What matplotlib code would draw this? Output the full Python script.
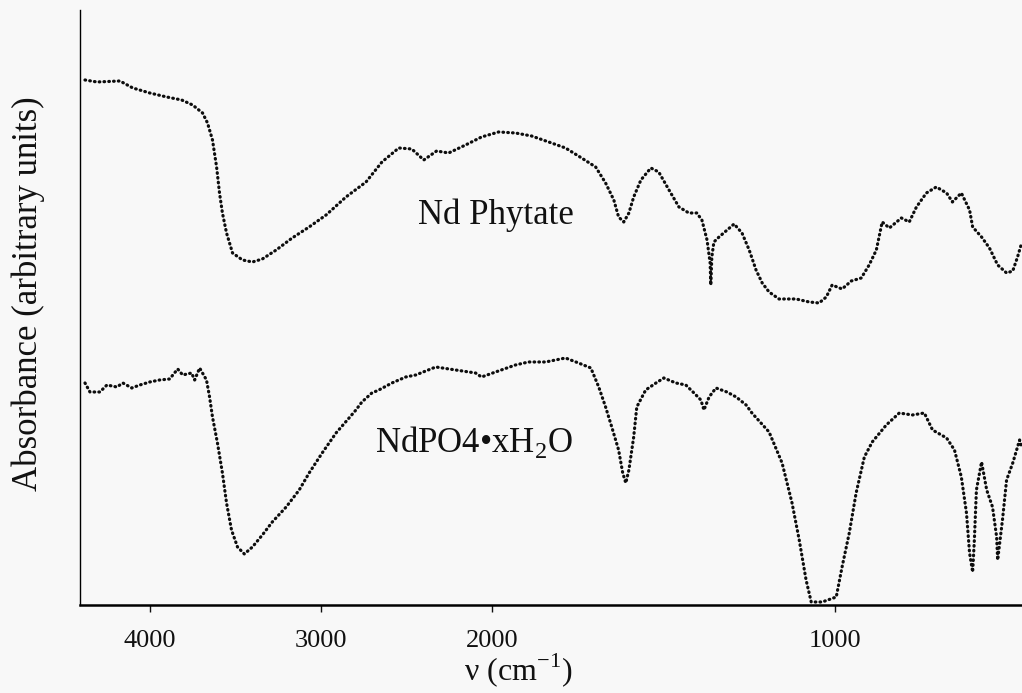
import numpy as np
import matplotlib
matplotlib.use("Agg")
import matplotlib.pyplot as plt

plt.rcParams['font.family'] = ['Liberation Serif', 'DejaVu Serif']
plt.rcParams['mathtext.fontset'] = 'custom'
plt.rcParams['mathtext.rm'] = 'Liberation Serif'

# IR spectra: wavenumber (cm-1) and absorbance (arbitrary units)
phytate_nu = [4378, 4308, 4174, 4099, 4000, 3901, 3814, 3750, 3692, 3663, 3634, 3610,
              3593, 3576, 3552, 3517, 3459, 3401, 3343, 3262, 3169, 3070, 2971, 2855,
              2738, 2645, 2547, 2471, 2401, 2326, 2256, 2157, 2064, 1982, 1933, 1886,
              1836, 1787, 1740, 1699, 1670, 1646, 1632, 1617, 1602, 1588, 1567, 1538,
              1515, 1485, 1456, 1427, 1404, 1389, 1374, 1365, 1363, 1360, 1354, 1339,
              1295, 1272, 1251, 1231, 1213, 1193, 1164, 1114, 1076, 1047, 1026, 1009,
              980, 953, 924, 901, 880, 863, 842, 807, 784, 763, 734, 705, 675, 658,
              632, 608, 599, 573, 550, 526, 500, 482, 468, 456]
phytate_abs = [5.25, 5.23, 5.24, 5.17, 5.12, 5.08, 5.05, 5.00, 4.92, 4.82, 4.65, 4.38,
               4.12, 3.92, 3.72, 3.52, 3.45, 3.43, 3.46, 3.55, 3.67, 3.78, 3.90, 4.08,
               4.23, 4.43, 4.57, 4.56, 4.45, 4.54, 4.52, 4.60, 4.68, 4.73, 4.72, 4.69,
               4.63, 4.57, 4.47, 4.38, 4.22, 4.05, 3.88, 3.83, 3.92, 4.08, 4.25, 4.37,
               4.33, 4.15, 3.98, 3.92, 3.92, 3.85, 3.65, 3.42, 3.20, 3.48, 3.63, 3.68,
               3.81, 3.72, 3.55, 3.35, 3.22, 3.13, 3.06, 3.06, 3.03, 3.02, 3.08, 3.20,
               3.16, 3.24, 3.27, 3.40, 3.55, 3.83, 3.77, 3.87, 3.83, 3.98, 4.12, 4.18,
               4.12, 4.03, 4.12, 3.95, 3.78, 3.68, 3.57, 3.40, 3.32, 3.34, 3.48, 3.62]

ndpo4_nu = [4378, 4349, 4291, 4250, 4192, 4157, 4105, 4058, 4000, 3942, 3884, 3837,
            3808, 3756, 3738, 3709, 3669, 3651, 3634, 3605, 3576, 3552, 3523, 3488,
            3448, 3401, 3343, 3285, 3204, 3128, 3070, 2994, 2913, 2837, 2797, 2762,
            2704, 2663, 2587, 2506, 2448, 2331, 2215, 2099, 2064, 1991, 1933, 1895,
            1845, 1787, 1749, 1713, 1690, 1670, 1652, 1632, 1620, 1611, 1602, 1588,
            1579, 1553, 1523, 1500, 1465, 1436, 1412, 1392, 1383, 1368, 1348, 1316,
            1289, 1260, 1243, 1193, 1155, 1126, 1105, 1085, 1070, 1038, 997, 980,
            959, 939, 915, 892, 851, 813, 775, 740, 716, 675, 652, 632, 617, 608,
            599, 594, 588, 573, 558, 541, 529, 526, 512, 500, 482, 462, 456]
ndpo4_abs = [2.22, 2.13, 2.13, 2.20, 2.18, 2.22, 2.17, 2.20, 2.23, 2.25, 2.26, 2.36,
             2.30, 2.32, 2.25, 2.37, 2.25, 2.08, 1.88, 1.62, 1.32, 1.02, 0.75, 0.58,
             0.51, 0.58, 0.70, 0.83, 0.98, 1.15, 1.32, 1.52, 1.72, 1.87, 1.95, 2.03,
             2.12, 2.15, 2.22, 2.28, 2.30, 2.38, 2.35, 2.32, 2.28, 2.33, 2.40, 2.43,
             2.43, 2.47, 2.42, 2.37, 2.18, 1.98, 1.78, 1.55, 1.32, 1.22, 1.35, 1.68,
             1.98, 2.15, 2.22, 2.27, 2.22, 2.20, 2.12, 2.05, 1.95, 2.08, 2.17, 2.13,
             2.08, 2.00, 1.92, 1.73, 1.42, 1.02, 0.65, 0.25, 0.03, 0.03, 0.08, 0.38,
             0.72, 1.12, 1.48, 1.63, 1.80, 1.92, 1.90, 1.92, 1.75, 1.67, 1.55, 1.28,
             0.92, 0.52, 0.33, 0.65, 1.15, 1.43, 1.15, 0.98, 0.68, 0.45, 0.85, 1.25,
             1.42, 1.65, 1.58]

x_ticks = [4000, 3000, 2000, 1000]
BREAK = 2000  # spectrometer doubles the abscissa scale below 2000 cm-1


def fwd(v):
    v = np.asarray(v, dtype=float)
    return np.where(v >= BREAK, v - BREAK, (v - BREAK) * 2.0)


def inv(u):
    u = np.asarray(u, dtype=float)
    return np.where(u >= 0, u + BREAK, u / 2.0 + BREAK)


fig = plt.figure(figsize=(10.22, 6.93), dpi=100)
fig.patch.set_facecolor("#f8f8f8")
ax = fig.add_axes([0.0783, 0.127, 0.9217, 0.8586])
ax.set_facecolor("#f8f8f8")
ax.set_xscale("function", functions=(fwd, inv))

# dotted trace like the scanned chart-recorder output
style = dict(color="#0d0d0d", lw=2.3, ls=(0, (0.2, 1.3)), dash_capstyle="round",
             solid_joinstyle="round")
ax.plot(phytate_nu, phytate_abs, **style)
ax.plot(ndpo4_nu, ndpo4_abs, **style)

ax.set_xlim(4407, 455)
ax.set_ylim(0, 5.95)
ax.set_xticks(x_ticks)
ax.set_xticklabels([str(t) for t in x_ticks])
ax.set_yticks([])
ax.tick_params(axis="x", direction="out", length=5, width=1.0, pad=13,
               labelsize=19, colors="#111111")
for s in ("top", "right"):
    ax.spines[s].set_visible(False)
ax.spines["bottom"].set_linewidth(1.8)
ax.spines["left"].set_linewidth(1.0)

ax.text(2000 - 10, 3.9, "Nd Phytate", fontsize=25, ha="center", va="center",
        color="#111111")
ax.text(2110, 1.63, "NdPO4\u2022xH$_\\mathregular{2}$O", fontsize=25, ha="center",
        va="center", color="#111111")

ax.set_xlabel("\u03bd (cm$^\\mathregular{-1}$)", fontsize=23, color="#111111")
ax.xaxis.set_label_coords(0.465, -0.077)
ax.set_ylabel("Absorbance (arbitrary units)", fontsize=25, color="#111111")
ax.yaxis.set_label_coords(-0.037, 0.524)

fig.savefig("out.png", dpi=100, facecolor=fig.get_facecolor())
